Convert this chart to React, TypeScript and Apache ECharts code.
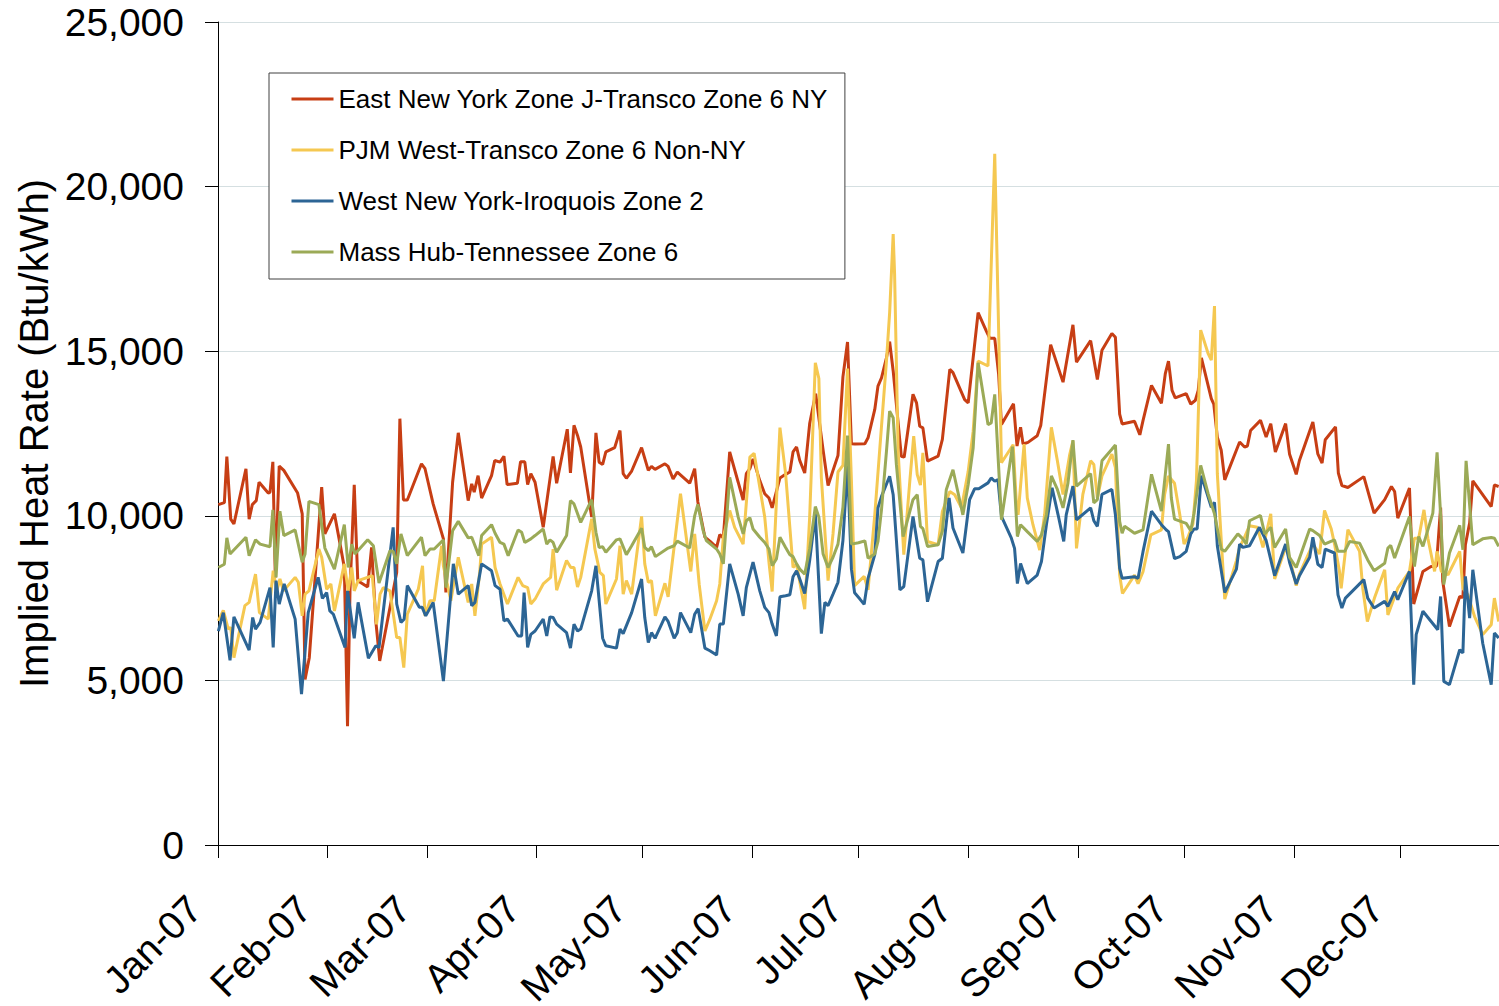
import React, { useEffect, useRef } from "react";
import * as echarts from "echarts";

// Day offsets from 1 Jan 2007 at which each month starts (axis ticks)
const monthStartDays = [0, 31, 59, 90, 120, 151, 181, 212, 243, 273, 304, 334];
const monthLabels = ["Jan-07", "Feb-07", "Mar-07", "Apr-07", "May-07", "Jun-07", "Jul-07", "Aug-07", "Sep-07", "Oct-07", "Nov-07", "Dec-07"];
const yTickValues = [0, 5000, 10000, 15000, 20000, 25000];
const seriesNames = [
  "East New York Zone J-Transco Zone 6 NY",
  "PJM West-Transco Zone 6 Non-NY",
  "West New York-Iroquois Zone 2",
  "Mass Hub-Tennessee Zone 6",
];
const seriesColors = ["#C73E14", "#F5C851", "#2C6595", "#9BAA57"];

// [day of year offset, implied heat rate (Btu/kWh)]
const eastNY = [
  [0.1, 10340], [1.8, 10400], [2.5, 11800], [3.6, 9900], [4.5, 9750], [7.9, 11430], [8.8, 9900], [9.7, 10340],
  [10.8, 10460], [11.6, 11020], [14.2, 10690], [14.7, 10720], [15.5, 11640], [16.2, 8130], [17.3, 11510], [18.6, 11380],
  [22.5, 10690], [23.8, 10060], [24.6, 5030], [25.8, 5690], [29.3, 10870], [30.2, 9450], [32.9, 10060], [34.5, 9140],
  [35.7, 8430], [36.6, 3610], [37.3, 7720], [38.5, 10940], [39.5, 8030], [42.3, 7840], [43.4, 9040], [44.6, 6800],
  [45.7, 5590], [50.5, 8280], [51.4, 12950], [52.4, 10480], [53.5, 10480], [57.5, 11580], [58.5, 11430], [60.8, 10360],
  [63.7, 9300], [64.4, 7670], [66.3, 11020], [67.9, 12520], [70.7, 10460], [71.7, 10970], [72.4, 10720], [73.5, 11220],
  [74.5, 10540], [77.3, 11220], [78.2, 11680], [79.7, 11630], [80.8, 11810], [81.7, 10950], [84.6, 10990], [85.5, 11640],
  [86.7, 11640], [87.5, 10950], [88.4, 11280], [89.6, 11020], [91.9, 9650], [94.7, 11800], [95.7, 10990], [98.7, 12630],
  [99.6, 11300], [100.6, 12750], [101.6, 12440], [102.5, 12090], [105.6, 9960], [106.8, 12520], [107.7, 11630], [108.7, 11560],
  [109.6, 11940], [112.1, 12070], [113.6, 12590], [114.5, 11280], [115.4, 11140], [116.9, 11360], [119.7, 12070], [121.6, 11380],
  [122.5, 11500], [123.5, 11410], [126.3, 11580], [127.2, 11500], [128.6, 11120], [129.8, 11330], [133.3, 10990], [134.7, 11430],
  [135.6, 10420], [137.6, 9350], [139.0, 9230], [140.9, 9040], [141.8, 9430], [142.8, 9330], [144.6, 11940], [147.0, 11020],
  [148.4, 10480], [149.3, 11280], [150.3, 11430], [151.2, 11730], [153.1, 11070], [154.5, 10670], [155.7, 10540], [156.6, 10240],
  [158.8, 11150], [160.4, 11260], [161.6, 11330], [162.5, 11940], [163.5, 12090], [164.4, 11680], [165.8, 11300], [167.2, 12800],
  [168.9, 13710], [171.0, 11990], [172.4, 10920], [173.8, 11380], [175.2, 11830], [176.6, 14220], [177.9, 15280], [179.0, 12190],
  [180.0, 12180], [182.8, 12190], [183.7, 12370], [185.6, 13230], [186.5, 13940], [187.5, 14190], [188.9, 14800], [189.8, 15290],
  [190.8, 14400], [193.1, 11810], [193.9, 11780], [196.4, 13690], [197.4, 13430], [198.3, 12720], [199.2, 12670], [200.5, 11660],
  [203.5, 11810], [204.7, 12320], [206.8, 14450], [207.7, 14350], [211.0, 13530], [212.0, 13430], [214.8, 16170], [217.1, 15620],
  [218.1, 15390], [219.5, 15390], [220.6, 14300], [221.4, 12770], [224.8, 13400], [225.8, 12120], [226.8, 12690], [227.5, 12180],
  [228.9, 12230], [231.5, 12430], [232.5, 12740], [233.6, 13710], [235.3, 15200], [238.8, 14060], [241.6, 15800], [242.6, 14670],
  [246.6, 15320], [248.5, 14140], [249.8, 15030], [252.6, 15540], [253.6, 15420], [254.8, 13090], [255.5, 12790], [259.0, 12870],
  [260.5, 12460], [261.4, 12890], [263.8, 13960], [266.6, 13420], [267.7, 14320], [268.6, 14700], [269.6, 13810], [270.5, 13580],
  [273.6, 13710], [274.9, 13390], [276.2, 13510], [277.0, 13810], [277.9, 14800], [280.7, 13560], [281.4, 13390], [282.4, 12390],
  [283.5, 11990], [284.5, 11090], [288.7, 12240], [290.1, 12090], [290.9, 12120], [291.8, 12590], [294.6, 12900], [296.2, 12390],
  [297.5, 12800], [298.8, 11940], [301.7, 12800], [302.8, 11880], [304.7, 11260], [305.6, 11680], [309.4, 12850], [310.8, 11880],
  [312.0, 11600], [312.9, 12310], [315.8, 12700], [316.6, 11300], [317.6, 10920], [319.3, 10860], [323.8, 11190], [326.7, 10080],
  [329.7, 10490], [331.6, 10890], [332.5, 10740], [333.4, 9930], [336.7, 10840], [337.9, 7320], [340.5, 8310], [342.8, 8460],
  [344.3, 8460], [345.5, 10250], [346.1, 8010], [348.0, 6640], [350.9, 7550], [351.8, 7520], [352.5, 9120], [353.7, 9780],
  [354.6, 11060], [359.8, 10280], [360.7, 10940], [361.9, 10890],
];

const pjmWest = [
  [0.1, 6810], [1.5, 7130], [2.9, 6560], [3.6, 6610], [4.5, 5690], [7.6, 7270], [8.8, 7370], [10.6, 8230],
  [11.7, 7060], [14.2, 6860], [15.6, 8330], [16.6, 7720], [17.5, 8080], [18.5, 7720], [21.8, 8130], [22.7, 7980],
  [23.8, 6960], [24.6, 7620], [25.7, 7720], [28.5, 8990], [29.3, 8740], [30.7, 7770], [31.9, 7930], [32.9, 7110],
  [35.7, 8540], [36.8, 7720], [37.8, 8430], [38.5, 7720], [39.6, 8030], [43.6, 8180], [44.8, 6700], [45.8, 7620],
  [46.7, 7820], [48.6, 7720], [50.5, 6300], [51.4, 6300], [52.5, 5390], [53.5, 7010], [56.6, 7770], [57.8, 8480],
  [58.5, 6960], [59.9, 7420], [61.1, 7420], [63.2, 9090], [63.7, 8480], [65.8, 7420], [67.9, 8740], [70.7, 7370],
  [71.7, 7930], [72.6, 6960], [74.0, 8330], [74.5, 9140], [77.3, 9350], [78.3, 8430], [79.7, 7930], [81.8, 7320],
  [84.8, 8130], [86.1, 7880], [87.5, 7820], [88.4, 7320], [89.6, 7470], [91.9, 7930], [94.0, 8130], [94.7, 8990],
  [95.7, 7740], [98.5, 8640], [99.7, 8430], [100.6, 8430], [101.6, 7840], [102.5, 8130], [105.6, 9910], [106.5, 8990],
  [107.9, 8280], [108.9, 8180], [109.6, 7320], [112.6, 8080], [113.6, 9090], [114.5, 7620], [115.4, 8030], [116.9, 7620],
  [119.7, 9980], [120.6, 8540], [121.6, 7980], [122.5, 8030], [123.6, 6960], [126.3, 7950], [127.2, 7540], [130.7, 10670],
  [133.6, 8310], [134.7, 9450], [136.0, 7900], [137.6, 6500], [139.0, 6860], [140.9, 7420], [141.8, 7930], [142.8, 9350],
  [144.6, 10160], [146.0, 9650], [148.4, 9140], [150.3, 11780], [151.5, 11900], [153.1, 10870], [154.5, 9960], [155.7, 8590],
  [156.6, 7700], [158.8, 12680], [160.4, 11280], [161.6, 9650], [162.5, 8430], [163.5, 8540], [165.8, 7160], [167.2, 9960],
  [168.8, 14650], [169.8, 14170], [170.5, 11170], [172.4, 8030], [173.8, 9450], [175.2, 11330], [176.6, 11530], [177.9, 14470],
  [179.0, 11070], [179.9, 7880], [182.6, 8160], [183.7, 7750], [185.6, 10030], [187.0, 12010], [188.9, 14700], [189.8, 16170],
  [190.8, 18560], [191.2, 17340], [192.2, 11960], [193.8, 8820], [195.5, 11050], [196.6, 12420], [197.6, 11250], [198.5, 10930],
  [199.2, 11910], [200.5, 9220], [203.5, 9120], [204.7, 10130], [206.8, 10740], [208.2, 10640], [210.1, 10240], [212.0, 11350],
  [213.4, 12570], [214.8, 14700], [217.6, 14550], [219.5, 21000], [220.4, 16630], [221.4, 11610], [224.7, 12160], [225.6, 10400],
  [226.1, 10030], [227.8, 12180], [228.7, 10540], [230.3, 9730], [232.2, 8960], [233.6, 10030], [235.5, 12690], [237.2, 11670],
  [238.8, 10650], [240.7, 11870], [241.6, 12280], [242.6, 9010], [244.4, 10650], [246.6, 11670], [247.5, 11560], [248.5, 10540],
  [249.8, 11210], [252.6, 11870], [253.6, 11460], [254.8, 8200], [255.6, 7640], [259.0, 8200], [260.0, 7940], [261.4, 8300],
  [263.6, 9420], [266.6, 9570], [267.5, 10650], [268.6, 11210], [270.3, 10990], [271.8, 10030], [273.0, 9140], [274.1, 9350],
  [275.5, 9750], [276.5, 11070], [277.7, 15640], [279.8, 14930], [280.7, 14730], [281.6, 16370], [282.4, 11280], [284.5, 7470],
  [287.8, 8640], [288.7, 9040], [290.1, 9350], [291.5, 9700], [293.7, 9650], [295.3, 9040], [296.2, 9450], [297.5, 10060],
  [298.6, 8080], [301.7, 9040], [302.8, 8740], [304.7, 7880], [305.6, 8230], [309.4, 9140], [311.3, 8840], [312.7, 10160],
  [314.6, 9600], [315.6, 9100], [316.9, 8330], [317.4, 7800], [319.3, 9580], [322.6, 8920], [323.5, 7800], [324.8, 6790],
  [326.8, 7500], [329.7, 8360], [330.6, 6990], [333.4, 7800], [336.7, 8310], [338.1, 9320], [339.3, 9320], [340.8, 10180],
  [341.9, 9320], [343.8, 8310], [344.5, 8920], [345.7, 8310], [347.6, 8210], [350.9, 8920], [351.8, 7800], [353.2, 7600],
  [355.1, 6940], [357.4, 6390], [359.8, 6690], [360.7, 7500], [361.9, 6790],
];

const westNY = [
  [0.1, 6500], [1.5, 7060], [3.4, 5610], [4.5, 6930], [8.8, 5920], [9.8, 6910], [10.6, 6560], [11.9, 6760],
  [14.7, 7820], [15.6, 6000], [16.4, 8030], [17.3, 7320], [18.7, 7930], [21.8, 6860], [23.6, 4580], [25.5, 7060],
  [28.3, 8130], [29.5, 7490], [30.7, 7670], [31.6, 7110], [32.6, 7010], [35.9, 6000], [36.6, 7720], [38.5, 6280],
  [39.6, 7370], [42.5, 5670], [44.6, 6050], [45.5, 6000], [49.5, 9650], [50.5, 7320], [51.7, 6760], [52.6, 6860],
  [53.5, 7880], [56.9, 7220], [57.7, 7220], [58.7, 6960], [60.8, 7370], [63.7, 4980], [66.5, 8540], [67.9, 7620],
  [70.7, 7880], [71.7, 7270], [72.6, 7370], [74.5, 8540], [77.3, 8330], [78.3, 7880], [79.7, 7770], [80.8, 6810],
  [81.8, 6860], [84.8, 6350], [85.8, 6350], [86.5, 7670], [87.5, 6000], [88.4, 6400], [89.6, 6500], [91.9, 6860],
  [92.9, 6350], [93.8, 6930], [94.7, 6910], [95.7, 6710], [98.5, 6450], [99.6, 5980], [100.6, 6710], [101.6, 6500],
  [102.5, 6560], [105.6, 7720], [106.8, 8480], [108.7, 6280], [109.6, 6050], [112.6, 5980], [113.6, 6560], [114.5, 6420],
  [116.9, 7060], [119.7, 8080], [120.6, 6910], [121.6, 6150], [122.5, 6450], [123.5, 6280], [126.3, 6930], [127.2, 6790],
  [128.9, 6280], [129.8, 6450], [130.7, 7060], [133.6, 6450], [134.7, 7010], [135.7, 7180], [137.6, 5980], [139.0, 5900],
  [140.9, 5770], [141.8, 6710], [142.8, 6710], [144.6, 8540], [147.0, 7620], [148.4, 6960], [149.3, 7820], [150.3, 8230],
  [151.2, 8590], [153.1, 7720], [154.5, 7220], [155.7, 7060], [156.6, 6710], [157.8, 6350], [158.8, 7540], [160.4, 7570],
  [161.6, 7600], [162.5, 8150], [163.5, 8330], [164.4, 8080], [165.8, 7640], [167.2, 8640], [168.8, 10060], [170.5, 6420],
  [171.5, 7370], [172.4, 7270], [173.8, 7620], [175.2, 7980], [176.6, 9250], [177.9, 11530], [179.0, 8380], [179.9, 7660],
  [181.4, 7470], [182.6, 7310], [183.7, 8100], [185.6, 8820], [186.5, 10240], [187.5, 10590], [189.8, 11200], [190.8, 10640],
  [192.7, 7750], [193.8, 7850], [196.4, 9980], [198.3, 8710], [199.2, 8660], [200.5, 7390], [203.5, 8610], [204.7, 8710],
  [206.6, 10540], [207.7, 9630], [210.5, 8870], [212.4, 10490], [213.8, 10820], [215.0, 10820], [217.6, 11000], [218.5, 11150],
  [219.5, 11050], [220.4, 11100], [221.4, 9980], [224.2, 9320], [225.1, 9010], [225.9, 7940], [226.8, 8550], [228.7, 7940],
  [231.5, 8200], [232.7, 8610], [234.1, 9730], [235.7, 10850], [237.4, 10030], [239.0, 9220], [239.7, 10030], [241.6, 10900],
  [242.6, 9880], [246.6, 10240], [247.5, 9850], [248.5, 9680], [249.8, 10650], [252.6, 10800], [253.6, 10030], [254.8, 8400],
  [255.5, 8100], [259.0, 8150], [260.0, 8100], [261.4, 8910], [263.8, 10140], [266.6, 9730], [268.0, 9570], [268.6, 9520],
  [270.3, 8700], [271.8, 8760], [273.6, 8920], [274.9, 9450], [275.8, 9600], [276.7, 9600], [277.9, 11220], [280.7, 10260],
  [281.6, 10410], [282.4, 9090], [284.5, 7670], [287.8, 8380], [288.7, 9140], [289.6, 9040], [291.5, 9090], [294.3, 9650],
  [296.2, 9250], [298.6, 8180], [301.7, 9140], [302.8, 8590], [304.7, 7930], [305.6, 8180], [308.5, 8740], [309.4, 9350],
  [310.8, 8530], [312.0, 8430], [312.9, 8990], [315.5, 8870], [316.5, 7600], [317.6, 7200], [318.6, 7500], [323.8, 8060],
  [324.9, 7500], [326.7, 7200], [329.7, 7400], [330.6, 7250], [332.5, 7700], [333.4, 7450], [336.7, 8310], [337.9, 4870],
  [338.6, 6390], [340.5, 7100], [344.7, 6540], [345.5, 7550], [346.4, 4970], [348.0, 4870], [350.9, 5930], [351.8, 5830],
  [352.5, 8160], [353.7, 6890], [354.6, 8360], [357.4, 6130], [359.8, 4870], [360.7, 6440], [361.9, 6290],
];

const massHub = [
  [0.1, 8430], [1.8, 8530], [2.5, 9330], [3.4, 8840], [7.9, 9350], [8.8, 8790], [10.6, 9270], [11.9, 9140],
  [14.7, 9060], [15.5, 10180], [16.4, 8130], [17.5, 10140], [18.6, 9400], [21.8, 9570], [23.8, 8590], [24.6, 8840],
  [25.7, 10440], [28.5, 10340], [30.2, 9020], [32.9, 8380], [35.7, 9730], [36.8, 8430], [37.8, 9140], [38.7, 8840],
  [42.3, 9270], [43.9, 9090], [45.5, 7960], [48.6, 8940], [49.5, 8920], [50.5, 8540], [51.7, 9450], [53.5, 8790],
  [57.5, 9350], [58.5, 8790], [59.9, 8990], [61.1, 8990], [63.7, 9270], [64.4, 7820], [66.3, 9550], [67.9, 9830],
  [70.7, 9330], [71.7, 9350], [73.7, 8790], [74.5, 9400], [77.3, 9730], [78.3, 9470], [79.7, 9190], [80.8, 9140],
  [82.0, 8790], [84.8, 9570], [85.8, 9500], [86.7, 9190], [88.4, 9300], [89.6, 9400], [91.9, 9600], [92.9, 9140],
  [93.8, 9270], [94.7, 9190], [95.7, 8890], [98.5, 9400], [99.6, 10460], [100.6, 10360], [102.5, 9800], [105.6, 10490],
  [106.8, 9500], [107.7, 9040], [108.7, 9060], [109.6, 8890], [112.6, 9270], [113.6, 9300], [115.4, 8820], [116.9, 9090],
  [119.7, 9620], [120.6, 9040], [121.6, 8940], [122.5, 9060], [123.6, 8760], [127.2, 9020], [128.9, 9090], [129.8, 9230],
  [133.3, 9020], [134.7, 10000], [135.6, 10350], [137.1, 9550], [138.0, 9250], [140.9, 8990], [141.8, 8840], [142.8, 8540],
  [144.6, 11170], [147.0, 9960], [148.4, 9450], [149.3, 9850], [150.3, 9940], [151.2, 9600], [153.1, 9350], [154.5, 9190],
  [155.7, 8990], [156.6, 8480], [157.8, 8690], [158.8, 9350], [160.4, 9040], [161.6, 8820], [162.5, 8760], [163.5, 8540],
  [164.4, 8380], [165.8, 8230], [167.2, 8990], [168.8, 10280], [169.8, 9960], [171.0, 8840], [172.4, 8430], [173.8, 8740],
  [175.2, 9140], [176.6, 10260], [177.9, 12440], [179.0, 9140], [181.0, 9180], [182.8, 9240], [183.7, 8710], [185.6, 8840],
  [186.5, 9220], [187.5, 10190], [188.9, 11960], [189.8, 13180], [190.8, 12980], [191.7, 11560], [193.6, 9370], [196.4, 10490],
  [197.6, 10640], [198.5, 9680], [199.2, 9610], [200.5, 9070], [203.5, 9120], [204.7, 9530], [205.8, 10790], [207.7, 11400],
  [210.5, 10030], [212.0, 10950], [213.4, 12060], [214.8, 14650], [217.6, 12770], [218.5, 12820], [219.5, 13690], [221.4, 9880],
  [224.5, 12100], [225.9, 9370], [226.8, 9730], [228.7, 9520], [231.5, 9220], [232.7, 9420], [234.1, 10030], [235.5, 11210],
  [237.2, 10800], [238.8, 10240], [240.2, 11000], [241.6, 12300], [242.6, 10900], [246.6, 11280], [247.5, 10390], [248.5, 10490],
  [249.8, 11670], [252.6, 12020], [253.6, 12150], [254.8, 9830], [255.5, 9470], [256.2, 9680], [259.0, 9470], [261.4, 9570],
  [263.8, 11260], [266.6, 10140], [268.6, 12180], [269.4, 10540], [270.3, 9900], [273.6, 9770], [274.9, 9550], [275.8, 10060],
  [277.7, 11530], [279.8, 10670], [281.6, 10060], [283.5, 8990], [284.5, 8920], [288.2, 9450], [289.6, 9300], [290.6, 9140],
  [291.5, 9850], [294.6, 10010], [295.8, 9450], [297.5, 9650], [298.6, 9040], [301.7, 9600], [302.8, 8740], [304.7, 8430],
  [308.5, 9600], [309.4, 9550], [311.3, 9400], [312.7, 9140], [315.5, 9270], [316.5, 8920], [318.4, 8920], [319.8, 9220],
  [322.6, 9170], [324.9, 8660], [326.7, 8330], [329.7, 8560], [330.6, 9020], [331.4, 9100], [332.5, 8720], [336.7, 9980],
  [338.1, 8460], [339.3, 9370], [340.5, 9070], [343.3, 10080], [344.5, 11930], [345.5, 10030], [346.4, 7910], [348.0, 8870],
  [350.9, 9710], [351.8, 8970], [352.7, 11670], [354.6, 9120], [357.4, 9300], [359.8, 9340], [360.7, 9320], [361.9, 9070],
];

const seriesData = [eastNY, pjmWest, westNY, massHub];

export default function App() {
  const ref = useRef<HTMLDivElement>(null);

  useEffect(() => {
    if (!ref.current) return;
    const chart = echarts.init(ref.current, null, { renderer: "svg" });
    const font = 'Arial, "Liberation Sans", sans-serif';
    chart.setOption({
      animation: false,
      backgroundColor: "#ffffff",
      textStyle: { fontFamily: font },
      grid: { left: 218, right: 0, top: 22, bottom: 161, containLabel: false, outerBoundsMode: "none" },
      legend: {
        orient: "vertical",
        left: 269,
        top: 73,
        padding: [13, 17, 14, 21],
        itemWidth: 42,
        itemHeight: 26,
        itemGap: 25,
        borderColor: "#404040",
        borderWidth: 1,
        backgroundColor: "#ffffff",
        itemStyle: { opacity: 0 },
        lineStyle: { width: 3 },
        textStyle: { fontSize: 26, color: "#000000", fontFamily: font, lineHeight: 26 },
        data: seriesNames,
      },
      xAxis: {
        type: "value",
        min: 0,
        max: 362,
        axisLine: { show: true, onZero: false, lineStyle: { color: "#000000", width: 1 } },
        axisTick: { show: true, customValues: monthStartDays, length: 13, lineStyle: { color: "#000000" } },
        axisLabel: {
          customValues: monthStartDays,
          rotate: 45,
          margin: 34,
          padding: [0, 33, 0, 0],
          fontSize: 39,
          color: "#000000",
          fontFamily: font,
          formatter: (v: number) => {
            const i = monthStartDays.indexOf(Math.round(v));
            return i >= 0 ? monthLabels[i] : "";
          },
        },
        splitLine: { show: false },
      },
      yAxis: {
        type: "value",
        min: yTickValues[0],
        max: yTickValues[yTickValues.length - 1],
        interval: 5000,
        name: "Implied Heat Rate (Btu/kWh)",
        nameLocation: "middle",
        nameGap: 163,
        nameTextStyle: { fontSize: 40, color: "#000000", fontFamily: font },
        axisLine: { show: true, lineStyle: { color: "#000000", width: 1 } },
        axisTick: { show: true, length: 13, lineStyle: { color: "#000000" } },
        axisLabel: {
          margin: 34,
          fontSize: 39,
          color: "#000000",
          fontFamily: font,
          formatter: (v: number) => v.toLocaleString("en-US"),
        },
        splitLine: { show: true, lineStyle: { color: "#d5dfe1", width: 1 } },
      },
      series: seriesNames.map((name, i) => ({
        name,
        type: "line",
        data: seriesData[i],
        symbol: "none",
        showSymbol: false,
        lineStyle: { color: seriesColors[i], width: 3 },
        itemStyle: { color: seriesColors[i] },
        emphasis: { disabled: true },
      })),
    });
    return () => chart.dispose();
  }, []);

  return (
    <div
      ref={ref}
      style={{ position: "absolute", left: 0, top: 0, width: 1499, height: 1006, background: "#ffffff" }}
    />
  );
}
